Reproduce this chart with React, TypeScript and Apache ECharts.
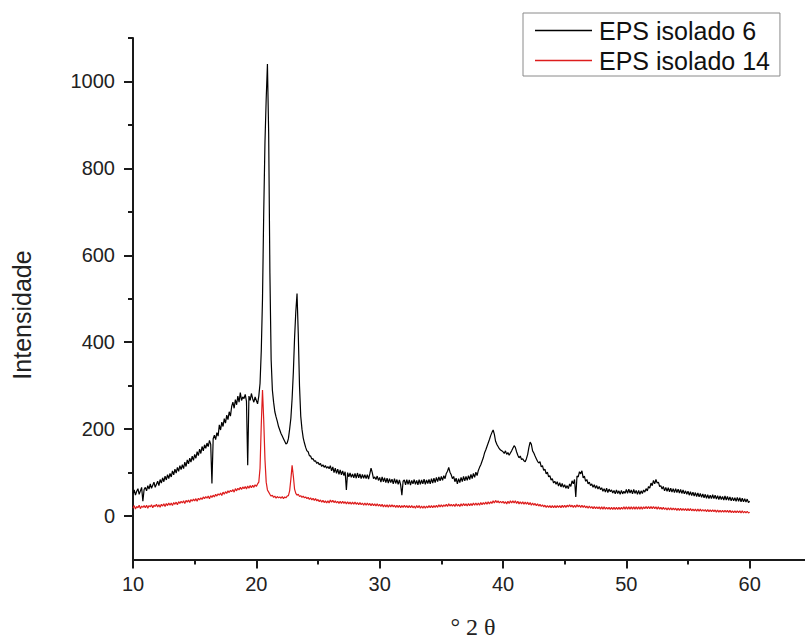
import React, { useEffect, useRef } from "react";
import * as echarts from "echarts";

const thetaStart = 10;
const thetaStep = 0.1;

// EPS isolado 6 (black), sampled every 0.1° from 10° to 60°
const eps6: number[] = [
  52, 60, 48, 57, 63, 50, 58, 66, 34, 61,
  66, 58, 70, 62, 74, 64, 71, 78, 66, 73,
  80, 70, 84, 76, 88, 79, 92, 83, 95, 86,
  98, 90, 104, 95, 108, 99, 112, 103, 116, 107,
  118, 109, 124, 114, 129, 120, 133, 124, 138, 128,
  142, 133, 148, 139, 154, 144, 160, 150, 164, 156,
  168, 160, 174, 165, 75, 178, 186, 176, 192, 184,
  210, 198, 216, 206, 224, 214, 232, 222, 240, 230,
  252, 262, 248, 268, 256, 276, 262, 284, 266, 274,
  270, 280, 264, 117, 276, 266, 282, 270, 262, 274,
  266, 258, 276, 305, 380, 500, 700, 860, 960, 1040,
  880, 560, 360, 290, 262, 240, 228, 218, 206, 198,
  190, 184, 178, 172, 166, 168, 178, 200, 225, 270,
  330, 410, 470, 512, 420, 300, 230, 200, 180, 168,
  158, 150, 148, 139, 138, 131, 132, 126, 127, 121,
  124, 118, 121, 114, 118, 112, 116, 110, 114, 109,
  116, 104, 113, 100, 110, 98, 108, 96, 106, 95,
  104, 93, 102, 60, 100, 90, 99, 89, 97, 88,
  98, 87, 99, 88, 97, 86, 96, 87, 95, 86,
  95, 85, 97, 110, 100, 86, 90, 84, 92, 82,
  89, 78, 90, 79, 88, 77, 87, 76, 86, 77,
  85, 74, 86, 75, 84, 73, 83, 72, 48, 80,
  83, 72, 84, 73, 83, 71, 82, 74, 84, 73,
  82, 72, 84, 73, 83, 74, 85, 73, 83, 75,
  84, 74, 86, 76, 87, 77, 89, 79, 90, 81,
  91, 82, 93, 86, 98, 103, 112, 101, 95, 86,
  91, 79, 87, 74, 86, 77, 89, 79, 91, 81,
  91, 82, 93, 84, 96, 86, 98, 89, 101, 93,
  105, 112, 118, 126, 134, 145, 152, 160, 168, 176,
  185, 192, 198, 188, 172, 165, 160, 155, 152, 150,
  148, 144, 150, 142, 146, 140, 145, 150, 156, 162,
  158, 148, 140, 134, 138, 130, 132, 127, 125, 132,
  142, 158, 170, 165, 150, 145, 138, 132, 126, 122,
  125, 113, 116, 105, 108, 97, 101, 90, 93, 83,
  86, 76, 80, 73, 79, 69, 77, 67, 75, 66,
  72, 64, 70, 63, 74, 68, 81, 74, 84, 44,
  92, 90, 102, 97, 104, 88, 92, 80, 84, 74,
  78, 70, 74, 66, 72, 64, 70, 62, 68, 61,
  65, 57, 63, 55, 64, 54, 62, 56, 60, 53,
  59, 51, 60, 52, 58, 50, 59, 51, 57, 52,
  61, 52, 62, 53, 60, 51, 61, 52, 59, 50,
  59, 50, 58, 52, 60, 55, 63, 58, 68, 64,
  76, 70, 82, 74, 84, 76, 78, 68, 70, 62,
  68, 58, 66, 57, 65, 56, 64, 55, 63, 54,
  63, 54, 62, 53, 61, 52, 60, 51, 58, 50,
  57, 48, 56, 47, 55, 46, 54, 45, 53, 44,
  52, 43, 51, 42, 50, 41, 49, 40, 48, 40,
  49, 40, 48, 39, 47, 38, 46, 38, 45, 37,
  46, 37, 45, 36, 44, 35, 43, 35, 42, 34,
  43, 34, 42, 33, 41, 33, 40, 32, 39, 31,
  34,
];

// EPS isolado 14 (red), sampled every 0.1° from 10° to 60°
const eps14: number[] = [
  18, 24, 16, 22, 19, 25, 17, 23, 20, 24,
  19, 25, 18, 24, 21, 26, 19, 25, 22, 27,
  21, 26, 20, 27, 23, 28, 22, 29, 24, 30,
  25, 30, 24, 31, 27, 32, 26, 33, 29, 34,
  30, 35, 29, 36, 32, 37, 31, 38, 34, 39,
  35, 40, 34, 41, 37, 42, 38, 44, 40, 45,
  41, 46, 40, 47, 43, 48, 44, 50, 46, 51,
  48, 53, 47, 55, 50, 56, 52, 58, 54, 59,
  56, 61, 55, 63, 58, 64, 60, 66, 61, 67,
  63, 68, 62, 69, 64, 70, 65, 71, 66, 72,
  68, 74, 78, 110, 210, 290, 220, 130, 78, 60,
  55, 50, 46, 48, 43, 46, 41, 45, 42, 44,
  41, 45, 40, 44, 42, 46, 47, 58, 85, 117,
  92, 62, 52, 48, 50, 45, 47, 43, 46, 42,
  44, 40, 43, 38, 42, 37, 41, 36, 40, 35,
  38, 33, 37, 32, 36, 31, 35, 30, 35, 30,
  37, 32, 36, 31, 35, 30, 34, 29, 34, 29,
  34, 29, 33, 28, 33, 28, 32, 27, 32, 27,
  32, 27, 31, 26, 31, 26, 30, 25, 30, 25,
  30, 25, 29, 24, 29, 24, 28, 23, 28, 23,
  27, 22, 27, 21, 26, 21, 26, 20, 26, 21,
  26, 21, 25, 20, 25, 20, 25, 19, 24, 20,
  25, 20, 24, 19, 24, 19, 24, 19, 23, 18,
  24, 19, 24, 18, 23, 18, 23, 18, 23, 19,
  24, 19, 24, 19, 24, 20, 25, 20, 26, 21,
  26, 21, 26, 22, 27, 22, 28, 23, 27, 23,
  27, 22, 28, 23, 27, 22, 28, 23, 29, 24,
  28, 23, 29, 24, 29, 24, 30, 25, 30, 25,
  30, 25, 31, 26, 31, 27, 32, 27, 33, 28,
  33, 29, 35, 30, 36, 31, 35, 30, 34, 30,
  34, 29, 33, 28, 34, 29, 35, 30, 35, 30,
  35, 29, 34, 28, 33, 28, 33, 27, 32, 27,
  32, 26, 31, 25, 30, 25, 29, 24, 28, 23,
  27, 22, 26, 21, 25, 20, 24, 20, 24, 19,
  24, 19, 24, 19, 24, 20, 24, 19, 25, 20,
  25, 20, 25, 21, 26, 21, 25, 20, 25, 20,
  26, 21, 25, 20, 25, 20, 24, 19, 23, 18,
  23, 18, 22, 17, 22, 17, 21, 17, 21, 16,
  21, 16, 21, 16, 20, 16, 20, 15, 20, 15,
  20, 15, 20, 15, 20, 15, 20, 16, 21, 16,
  21, 16, 21, 16, 21, 16, 21, 16, 21, 16,
  21, 16, 21, 16, 21, 17, 22, 17, 22, 17,
  22, 17, 22, 17, 21, 16, 21, 16, 20, 15,
  20, 15, 19, 14, 19, 14, 19, 14, 18, 14,
  18, 13, 18, 13, 18, 13, 17, 13, 17, 12,
  17, 12, 17, 12, 16, 12, 16, 11, 16, 11,
  16, 11, 15, 11, 15, 10, 15, 10, 14, 10,
  14, 10, 14, 9, 14, 9, 13, 9, 13, 9,
  13, 9, 13, 8, 13, 8, 12, 8, 12, 8,
  12, 8, 12, 7, 12, 7, 11, 7, 11, 7,
  9,
];

const seriesNames = ["EPS isolado 6", "EPS isolado 14"];
const xMajorTicks = [10, 20, 30, 40, 50, 60];
const yMajorTicks = [0, 200, 400, 600, 800, 1000];
const yMinorTicks = [100, 300, 500, 700, 900, 1100];
const xTitle = "° 2 θ";
const yTitle = "Intensidade";

const SANS = "'Liberation Sans', Arial, Helvetica, sans-serif";
const SERIF = "'Liberation Serif', 'Times New Roman', serif";
const AXIS_COLOR = "#1a1a1a";

const toPairs = (vals: number[]) =>
  vals.map((v, i) => [+(thetaStart + i * thetaStep).toFixed(2), v]);

export default function App() {
  const ref = useRef<HTMLDivElement>(null);

  useEffect(() => {
    if (!ref.current) return;
    const chart = echarts.init(ref.current, undefined, { renderer: "svg" });
    const ls = () => ({ color: AXIS_COLOR, width: 2 });
    // the x axis runs past the right edge of the picture (cut off like the reference)
    const gridBox = { left: 133, top: 38, width: 740, height: 521.5, outerBoundsMode: "none" };
    chart.setOption({
      animation: false,
      backgroundColor: "#ffffff",
      grid: [{ ...gridBox }, { ...gridBox }],
      legend: {
        orient: "vertical",
        left: 523,
        top: 13,
        padding: [5, 10, 3, 12],
        itemGap: 5,
        itemWidth: 57,
        itemHeight: 1.5,
        icon: "rect",
        borderColor: "#8a8a8a",
        borderWidth: 1,
        data: seriesNames,
        textStyle: { fontSize: 25, fontFamily: SANS, color: "#111", padding: [0, 0, 0, 2] },
      },
      xAxis: [
        {
          gridIndex: 0,
          type: "value",
          min: 10,
          max: 70,
          interval: 10,
          splitLine: { show: false },
          axisLine: { show: true, onZero: false, lineStyle: ls() },
          axisTick: { show: true, length: 9, lineStyle: ls() },
          minorTick: { show: true, splitNumber: 2, length: 5, lineStyle: ls() },
          axisLabel: { customValues: xMajorTicks, fontSize: 20, color: "#222", margin: 14, fontFamily: SANS },
        },
        {
          gridIndex: 1,
          type: "value",
          min: 10,
          max: 70,
          show: false,
        },
      ],
      yAxis: [
        {
          gridIndex: 0,
          type: "value",
          min: -100,
          max: 1100,
          splitLine: { show: false },
          axisLine: { show: true, onZero: false, lineStyle: ls() },
          axisTick: { show: true, customValues: yMajorTicks, length: 9, lineStyle: ls() },
          axisLabel: {
            customValues: yMajorTicks,
            fontSize: 20,
            color: "#222",
            margin: 18,
            fontFamily: SANS,
            formatter: (v: number) => String(v),
          },
        },
        {
          gridIndex: 1,
          type: "value",
          min: -100,
          max: 1100,
          splitLine: { show: false },
          axisLine: { show: false, onZero: false },
          axisTick: { show: true, customValues: yMinorTicks, length: 5, lineStyle: ls() },
          axisLabel: { show: false },
        },
      ],
      graphic: [
        {
          type: "text",
          x: 22,
          y: 315,
          rotation: Math.PI / 2,
          style: {
            text: yTitle,
            fontSize: 25,
            fontFamily: SANS,
            fill: "#222",
            textAlign: "center",
            textVerticalAlign: "middle",
          },
        },
        {
          type: "text",
          x: 473,
          y: 627,
          style: {
            text: xTitle,
            fontSize: 24,
            fontFamily: SERIF,
            fill: "#222",
            textAlign: "center",
            textVerticalAlign: "middle",
          },
        },
      ],
      series: [
        {
          name: seriesNames[0],
          type: "line",
          xAxisIndex: 0,
          yAxisIndex: 0,
          data: toPairs(eps6),
          showSymbol: false,
          symbol: "none",
          color: "#000000",
          lineStyle: { color: "#000000", width: 1.2 },
        },
        {
          name: seriesNames[1],
          type: "line",
          xAxisIndex: 0,
          yAxisIndex: 0,
          data: toPairs(eps14),
          showSymbol: false,
          symbol: "none",
          color: "#dd1c1c",
          lineStyle: { color: "#dd1c1c", width: 1.2 },
        },
      ],
    });
    return () => chart.dispose();
  }, []);

  return (
    <div
      ref={ref}
      style={{ position: "absolute", left: 0, top: 0, width: 805, height: 640, background: "#fff", overflow: "hidden" }}
    />
  );
}
